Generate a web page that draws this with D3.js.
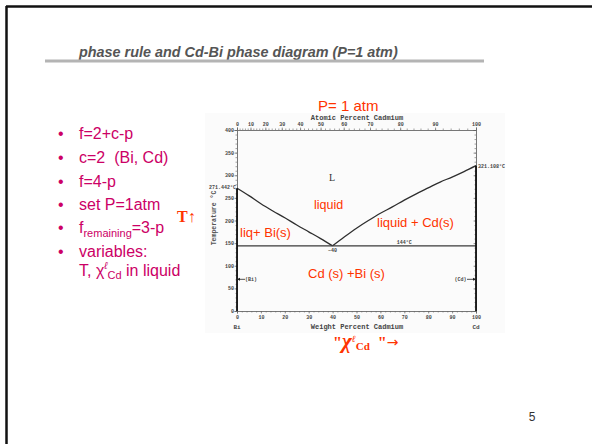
<!DOCTYPE html>
<html>
<head>
<meta charset="utf-8">
<script src="https://cdn.jsdelivr.net/npm/d3@7"></script>
<style>
  html, body { margin: 0; padding: 0; background: #fff; }
  svg { display: block; }
</style>
</head>
<body>
<svg id="slide" width="592" height="444"></svg>
<script>
// Cd-Bi phase diagram data (weight percent Cd vs temperature, °C)
const liquidusBiWt = [0, 5, 10, 15, 20, 25, 30, 35, 40];
const liquidusBiT  = [271.442, 255, 237, 221, 206, 190, 175, 160, 144];
const liquidusCdWt = [40, 45, 50, 55, 60, 65, 70, 75, 80, 85, 90, 95, 100];
const liquidusCdT  = [144, 164, 183, 200, 216, 230, 245, 259, 272, 285, 296, 308, 321.108];
const eutecticT = 144;
const eutecticWt = 40;
const meltBi = 271.442;
const meltCd = 321.108;

const tempTicks = [0, 50, 100, 150, 200, 250, 300, 350, 400];
const wtTicks = [0, 10, 20, 30, 40, 50, 60, 70, 80, 90, 100];
const atTicks = [0, 10, 20, 30, 40, 50, 60, 70, 80, 90, 100];

const bullets = ["f=2+c-p", "c=2  (Bi, Cd)", "f=4-p", "set P=1atm", "fremaining", "variables:"];

const RED = "#ff3300";
const MAGENTA = "#cc0066";

const svg = d3.select("#slide");

// slide frame
svg.append("line").attr("x1", 6).attr("x2", 592).attr("y1", 6.5).attr("y2", 6.5)
  .attr("stroke", "#111").attr("stroke-width", 2.5);
svg.append("line").attr("x1", 6.5).attr("x2", 6.5).attr("y1", 6).attr("y2", 444)
  .attr("stroke", "#111").attr("stroke-width", 2.5);

// title
svg.append("text").attr("x", 79).attr("y", 57)
  .attr("font-family", "Liberation Sans, Arial, sans-serif")
  .attr("font-size", 14.4).attr("font-weight", "bold").attr("font-style", "italic")
  .attr("fill", "#555")
  .text("phase rule and Cd-Bi phase diagram (P=1 atm)");
svg.append("line").attr("x1", 45).attr("x2", 484).attr("y1", 61).attr("y2", 61)
  .attr("stroke", "#b4b4b4").attr("stroke-width", 3);

// bullet list
const listFont = "Liberation Sans, Arial, sans-serif";
const baseY = [139, 163, 186.5, 210, 233, 257];
bullets.forEach((b, i) => {
  svg.append("text").attr("x", 58).attr("y", baseY[i])
    .attr("font-family", listFont).attr("font-size", 16).attr("fill", MAGENTA).text("•");
  const t = svg.append("text").attr("x", 79).attr("y", baseY[i])
    .attr("font-family", listFont).attr("font-size", 16).attr("fill", MAGENTA)
    .style("white-space", "pre");
  if (b === "fremaining") {
    t.append("tspan").text("f");
    t.append("tspan").attr("font-size", 11).attr("dy", 4).text("remaining");
    t.append("tspan").attr("dy", -4).text("=3-p");
  } else {
    t.text(b);
  }
});
{
  const t = svg.append("text").attr("x", 79).attr("y", 276)
    .attr("font-family", listFont).attr("font-size", 16).attr("fill", MAGENTA);
  t.append("tspan").text("T, χ");
  t.append("tspan").attr("font-size", 10).attr("dy", -7).attr("font-style", "italic").text("ℓ");
  t.append("tspan").attr("font-size", 11).attr("dy", 10).text("Cd");
  t.append("tspan").attr("dy", -3).text(" in liquid");
}

// "T↑"
svg.append("text").attr("x", 177).attr("y", 222)
  .attr("font-family", "Liberation Serif, Times New Roman, serif")
  .attr("font-size", 16).attr("font-weight", "bold").attr("fill", RED).text("T↑");

// ---- phase diagram ----
const x = d3.scaleLinear().domain([0, 100]).range([237, 476]);
const y = d3.scaleLinear().domain([0, 400]).range([311, 130]);

// atomic percent Cd -> weight percent Cd
const M_BI = 208.98, M_CD = 112.41;
const atToWt = a => 100 * a * M_CD / (a * M_CD + (100 - a) * M_BI);

const g = svg.append("g");
g.append("rect").attr("x", 205).attr("y", 113).attr("width", 300).attr("height", 220)
  .attr("fill", "#fbfbfb");

const axisFont = "Liberation Mono, DejaVu Sans Mono, monospace";

// bottom axis (weight percent)
const axBottom = g.append("g").attr("transform", `translate(0,${y(0)})`)
  .call(d3.axisBottom(x).tickValues(wtTicks).tickSize(2.5).tickFormat(d3.format("d")));
g.append("g").attr("transform", `translate(0,${y(0)})`)
  .call(d3.axisBottom(x).tickValues(d3.range(0, 101, 2)).tickSize(1.5).tickFormat(""))
  .call(a => a.select(".domain").remove());

// top axis (atomic percent)
const axTop = g.append("g").attr("transform", `translate(0,${y(400)})`)
  .call(d3.axisTop(x).tickValues(atTicks.map(atToWt)).tickSize(2.5)
    .tickFormat((d, i) => atTicks[i]));
g.append("g").attr("transform", `translate(0,${y(400)})`)
  .call(d3.axisTop(x).tickValues(d3.range(0, 101, 2).map(atToWt)).tickSize(1.5).tickFormat(""))
  .call(a => a.select(".domain").remove());

// left and right temperature axes
const axLeft = g.append("g").attr("transform", `translate(${x(0)},0)`)
  .call(d3.axisLeft(y).tickValues(tempTicks).tickSize(2.5).tickFormat(d3.format("d")));
g.append("g").attr("transform", `translate(${x(0)},0)`)
  .call(d3.axisLeft(y).tickValues(d3.range(0, 401, 10)).tickSize(1.5).tickFormat(""))
  .call(a => a.select(".domain").remove());
const axRight = g.append("g").attr("transform", `translate(${x(100)},0)`)
  .call(d3.axisLeft(y).tickValues(tempTicks).tickSize(2.5).tickFormat(""));
g.append("g").attr("transform", `translate(${x(100)},0)`)
  .call(d3.axisLeft(y).tickValues(d3.range(0, 401, 10)).tickSize(1.5).tickFormat(""))
  .call(a => a.select(".domain").remove());

[axBottom, axTop, axLeft, axRight].forEach(a => {
  a.selectAll(".domain").attr("stroke", "#555").attr("stroke-width", 0.8);
  a.selectAll("text").attr("font-family", axisFont).attr("font-size", 5)
    .attr("font-weight", "bold").attr("fill", "#444");
});
g.selectAll("g.tick line").attr("stroke", "#666").attr("stroke-width", 0.6);
axLeft.selectAll("text").attr("x", -3);
axBottom.selectAll("text").attr("y", 4);
axTop.selectAll("text").attr("y", -4);

// axis titles
const smallLbl = (tx, ty, s, anchor, size) => g.append("text").attr("x", tx).attr("y", ty)
  .attr("font-family", axisFont).attr("font-weight", "bold").attr("font-size", size || 7)
  .attr("fill", "#444").attr("text-anchor", anchor || "middle").text(s);
smallLbl(357, 120, "Atomic Percent Cadmium");
smallLbl(357, 328.5, "Weight Percent Cadmium");
smallLbl(x(0), 328.5, "Bi", "middle", 6);
smallLbl(x(100), 328.5, "Cd", "middle", 6);
g.append("text").attr("transform", "translate(216,218) rotate(-90)")
  .attr("font-family", axisFont).attr("font-weight", "bold").attr("font-size", 6.5)
  .attr("fill", "#555").attr("text-anchor", "middle").text("Temperature °C");

// phase boundaries
const line = d3.line().x(d => x(d[0])).y(d => y(d[1])).curve(d3.curveMonotoneX);
const ink = "#2e2e2e";
g.append("path").datum(d3.zip(liquidusBiWt, liquidusBiT)).attr("d", line)
  .attr("fill", "none").attr("stroke", ink).attr("stroke-width", 1.3);
g.append("path").datum(d3.zip(liquidusCdWt, liquidusCdT)).attr("d", line)
  .attr("fill", "none").attr("stroke", ink).attr("stroke-width", 1.3);
g.append("line").attr("x1", x(0)).attr("x2", x(100)).attr("y1", y(eutecticT)).attr("y2", y(eutecticT))
  .attr("stroke", "#3a3a3a").attr("stroke-width", 1.2);
g.append("line").attr("x1", x(0)).attr("x2", x(0)).attr("y1", y(0)).attr("y2", y(meltBi))
  .attr("stroke", "#111").attr("stroke-width", 1.8);
g.append("line").attr("x1", x(100)).attr("x2", x(100)).attr("y1", y(0)).attr("y2", y(meltCd))
  .attr("stroke", "#111").attr("stroke-width", 1.8);

// point labels
smallLbl(x(0) - 1, y(meltBi) + 1, "271.442°C", "end", 5);
smallLbl(x(100) + 2, y(meltCd) + 2, "321.108°C", "start", 5);
smallLbl(x(70), y(eutecticT) - 1.5, "144°C", "middle", 5);
smallLbl(x(eutecticWt), y(eutecticT) + 6, "~40", "middle", 5);

// terminal solid solutions
const arrow = (x1, x2, yy) => g.append("line").attr("x1", x1).attr("x2", x2).attr("y1", yy).attr("y2", yy)
  .attr("stroke", "#222").attr("stroke-width", 0.8);
arrow(x(0), x(0) + 8, y(70));
g.append("path").attr("d", `M${x(0)},${y(70)}l3,-1.5v3z`).attr("fill", "#222");
smallLbl(x(0) + 8, y(70) + 2, "(Bi)", "start", 5);
arrow(x(100) - 9, x(100), y(70));
g.append("path").attr("d", `M${x(100)},${y(70)}l-3,-1.5v3z`).attr("fill", "#222");
smallLbl(x(100) - 9.5, y(70) + 2, "(Cd)", "end", 5);

g.append("text").attr("x", 332).attr("y", 181)
  .attr("font-family", "Liberation Serif, serif").attr("font-size", 10).attr("fill", "#333")
  .attr("text-anchor", "middle").text("L");

// region annotations
const note = (tx, ty, s, size) => svg.append("text").attr("x", tx).attr("y", ty)
  .attr("font-family", "Liberation Sans, Arial, sans-serif").attr("font-size", size || 13)
  .attr("fill", RED).text(s);
note(318, 111, "P= 1 atm", 15);
note(314, 209, "liquid", 12.5);
note(240, 237, "liq+ Bi(s)");
note(377, 227, "liquid + Cd(s)");
note(308, 278, "Cd (s) +Bi (s)");

// composition axis annotation
{
  const t = svg.append("text").attr("x", 333).attr("y", 348)
    .attr("font-family", "Liberation Serif, Times New Roman, serif")
    .attr("font-weight", "bold").attr("font-size", 16).attr("fill", RED)
    .style("white-space", "pre");
  t.append("tspan").text("\"");
  t.append("tspan").attr("font-style", "italic").attr("font-size", 21).text("χ");
  t.append("tspan").attr("font-size", 9.5).attr("font-style", "italic").attr("dy", -6).text("ℓ");
  t.append("tspan").attr("font-size", 11).attr("dy", 8).text("Cd");
  t.append("tspan").attr("dy", -2).text("  \"");
  t.append("tspan").attr("font-weight", "normal").attr("font-family", "DejaVu Sans, sans-serif")
    .attr("font-size", 14).attr("dy", -1).text("→");
}

// page number
svg.append("text").attr("x", 532).attr("y", 421)
  .attr("font-family", "Liberation Sans, Arial, sans-serif").attr("font-size", 12)
  .attr("fill", "#333").attr("text-anchor", "middle").text("5");
</script>
</body>
</html>
